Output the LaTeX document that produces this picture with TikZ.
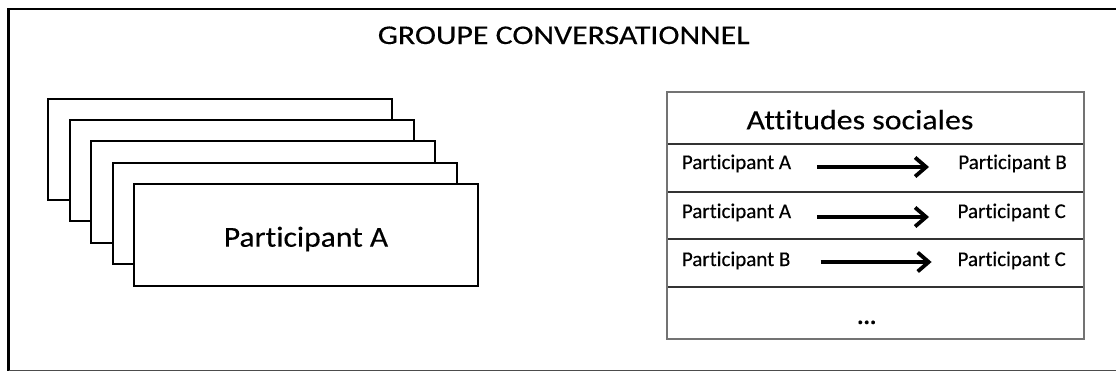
\documentclass[tikz,border=0pt]{standalone}
\usepackage{fontspec}
\usepackage{graphicx}
\setmainfont{Carlito}[Ligatures=NoCommon,FakeBold=0.3]
\usetikzlibrary{arrows.meta}
\newcommand\hstretch[2]{\scalebox{#1}[1]{#2}}
\begin{document}
\begin{tikzpicture}[x=1pt,y=-1pt,
  card/.style={draw=black,line width=2pt,fill=white,minimum width=344pt,minimum height=101.5pt,inner sep=0pt},
  lbl/.style={inner sep=0pt,font=\fontsize{21}{23}\selectfont},
  rel/.style={line width=3.8pt,-{Straight Barb[length=11pt,width=19pt,line width=3.8pt]}},
  rowline/.style={draw=black!80,line width=1.2pt},
]
\useasboundingbox (0,0) rectangle (1116,372);
% frame
\coordinate (f1) at (8.5,9);
\coordinate (f2) at (1125,9);
\coordinate (f3) at (8.5,370.5);
\coordinate (f4) at (1125,370.5);
\draw[line width=2.5pt,black] (f2) -- (f1) -- (f3);
\draw[line width=1.8pt,black!70] (f3) -- (f4);
\node[inner sep=0pt,anchor=base,font=\fontsize{27}{29}\selectfont] (title) at (563.7,44) {\hstretch{1.18}{GROUPE CONVERSATIONNEL}};
% stacked cards
\node[card] (c1) at (220.2,149.5) {};
\node[card] (c2) at (241.8,170.5) {};
\node[card] (c3) at (263.2,192) {};
\node[card] (c4) at (284.7,213.5) {};
\node[card] (c5) at (305.9,235) {};
\node[inner sep=0pt,anchor=base,font=\fontsize{29}{31}\selectfont] (pa) at (306,246.7) {\hstretch{1.09}{Participant A}};
% table
\coordinate (t1) at (667,92);
\coordinate (t2) at (1084,339);
\coordinate (r1l) at (667,144); \coordinate (r1r) at (1084,144);
\coordinate (r2l) at (667,192); \coordinate (r2r) at (1084,192);
\coordinate (r3l) at (667,239); \coordinate (r3r) at (1084,239);
\coordinate (r4l) at (667,287); \coordinate (r4r) at (1084,287);
\draw[rowline] (r1l) -- (r1r);
\draw[rowline] (r2l) -- (r2r);
\draw[rowline] (r3l) -- (r3r);
\draw[rowline] (r4l) -- (r4r);
\draw[draw=black!55,line width=2pt] (t1) rectangle (t2);
\node[inner sep=0pt,anchor=base,font=\fontsize{28}{30}\selectfont] (att) at (860,129.3) {\hstretch{1.14}{Attitudes sociales}};
\node[lbl,anchor=base west] (a1) at (681.7,169) {Participant A};
\node[lbl,anchor=base east] (b1) at (1067,169) {Participant B};
\node[lbl,anchor=base west] (a2) at (681.7,218) {Participant A};
\node[lbl,anchor=base east] (b2) at (1066,218) {Participant C};
\node[lbl,anchor=base west] (a3) at (681.7,266) {Participant B};
\node[lbl,anchor=base east] (b3) at (1066,266) {Participant C};
\coordinate (s1) at (817,167); \coordinate (e1) at (929,167);
\coordinate (s2) at (817,217); \coordinate (e2) at (929,217);
\coordinate (s3) at (820.6,262); \coordinate (e3) at (931.6,262);
\draw[rel] (s1) -- (e1);
\draw[rel] (s2) -- (e2);
\draw[rel] (s3) -- (e3);
\node[inner sep=0pt,anchor=base,font=\fontsize{24}{26}\bfseries] (dots) at (866.7,324) {...};
\end{tikzpicture}
\end{document}
